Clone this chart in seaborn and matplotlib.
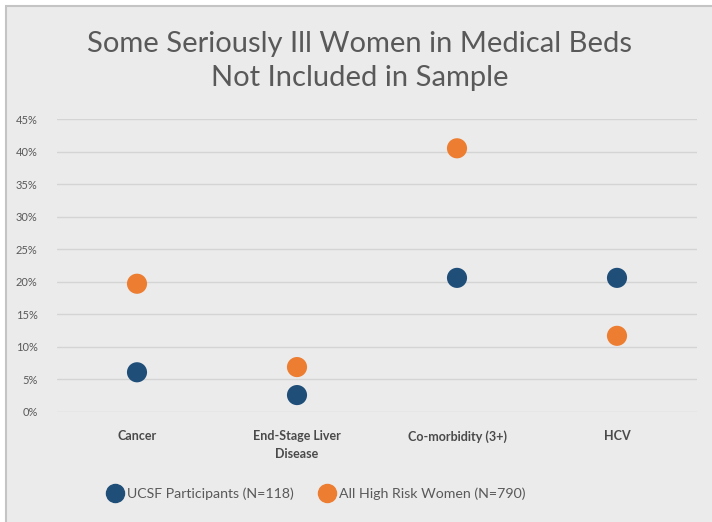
import matplotlib
matplotlib.use("Agg")
import matplotlib.pyplot as plt
import matplotlib.patches as mpatches
import seaborn as sns
import pandas as pd

categories = ["Cancer", "End-Stage Liver\nDisease", "Co-morbidity (3+)", "HCV"]
ucsf = [6.1, 2.6, 20.6, 20.6]
high_risk = [19.7, 6.9, 40.5, 11.7]
series_names = ["UCSF Participants (N=118)", "All High Risk Women (N=790)"]
yticks = [0, 5, 10, 15, 20, 25, 30, 35, 40, 45]

df = pd.DataFrame({
    "category": categories * 2,
    "value": ucsf + high_risk,
    "series": [series_names[0]] * 4 + [series_names[1]] * 4,
})

sns.set_style("white")
plt.rcParams["font.family"] = ["Lato", "DejaVu Sans"]

bg = "#ebebeb"
fig = plt.figure(figsize=(7.12, 5.22), dpi=100, facecolor="white")
# chart-area box with grey border on left / top
fig.patches.append(mpatches.Rectangle((6 / 712, -0.1), 1.2, 1.1 - 6 / 522, transform=fig.transFigure,
                                      facecolor=bg, edgecolor="#c4c4c4", linewidth=1.5, zorder=-5))

ax = fig.add_axes([57 / 712, 1 - 412 / 522, 640 / 712, 293 / 522])
ax.set_facecolor(bg)

sns.scatterplot(data=df, x="category", y="value", hue="series",
                palette=["#1f4e79", "#ed7d31"], s=210, edgecolor="none",
                ax=ax, zorder=3, clip_on=False, legend=False)

ax.set_xlim(-0.5, 3.5)
ax.set_ylim(0, 45)
ax.set_yticks(yticks)
ax.set_yticklabels([f"{t}%" for t in yticks], color="#595959", fontsize=8)
ax.set_xticks(range(len(categories)))
ax.set_xticklabels(categories, color="#4a4a4a", fontsize=9, fontweight="bold", linespacing=1.6)
ax.tick_params(axis="both", length=0)
ax.tick_params(axis="y", pad=14)
ax.tick_params(axis="x", pad=13)
ax.grid(axis="y", color="#d4d4d4", linewidth=1)
ax.set_axisbelow(True)
for sp in ax.spines.values():
    sp.set_visible(False)
ax.set_xlabel("")
ax.set_ylabel("")

fig.text(0.505, 1 - 61 / 522, "Some Seriously Ill Women in Medical Beds\nNot Included in Sample",
         ha="center", va="center", fontsize=21, color="#595959", linespacing=1.4)

handles = [plt.Line2D([], [], marker="o", linestyle="", markersize=13, color=c)
           for c in ["#1f4e79", "#ed7d31"]]
fig.legend(handles, series_names, loc="center", bbox_to_anchor=(0.44, 1 - 494 / 522),
           ncol=2, frameon=False, fontsize=10.2, handletextpad=-0.2, columnspacing=1.4,
           labelcolor="#595959")

fig.savefig("out.png", dpi=100, facecolor="white")
